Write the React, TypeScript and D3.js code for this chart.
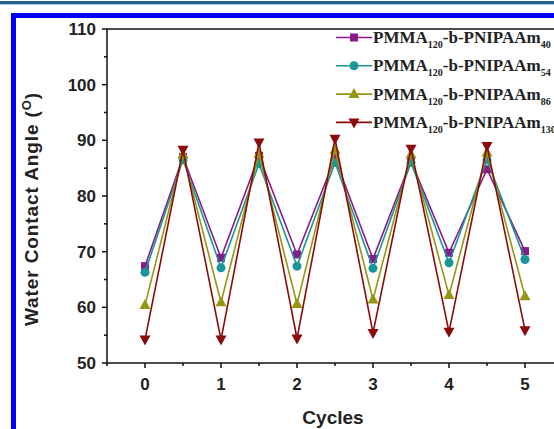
import React from "react";
import * as d3 from "d3";

const cycles = [0, 0.5, 1, 1.5, 2, 2.5, 3, 3.5, 4, 4.5, 5];
const seriesNames = ["40", "54", "86", "130"];
const purpleValues = [67.4, 87.0, 68.9, 87.2, 69.5, 86.8, 68.7, 86.3, 69.8, 84.8, 70.1];
const tealValues = [66.3, 86.5, 67.1, 85.8, 67.4, 86.0, 67.0, 86.0, 68.0, 86.5, 68.6];
const oliveValues = [60.4, 87.5, 60.9, 87.6, 60.6, 88.3, 61.4, 87.5, 62.2, 87.8, 62.0];
const redValues = [54.2, 88.3, 54.2, 89.6, 54.4, 90.3, 55.4, 88.5, 55.6, 89.0, 55.9];
const xTicks = [0, 1, 2, 3, 4, 5];
const yTicks = [50, 60, 70, 80, 90, 100, 110];

const colors = ["#8a1a8a", "#1a9696", "#969610", "#8b0a0a"];
const shapes = ["square", "circle", "triangle", "down"];
const allValues = [purpleValues, tealValues, oliveValues, redValues];

function Marker({ shape, x, y, color }: { shape: string; x: number; y: number; color: string }) {
  if (shape === "square") return <rect x={x - 4} y={y - 4} width={8} height={8} fill={color} />;
  if (shape === "circle") return <circle cx={x} cy={y} r={4.5} fill={color} />;
  if (shape === "triangle")
    return <path d={`M${x},${y - 6}L${x + 5.5},${y + 4}L${x - 5.5},${y + 4}Z`} fill={color} />;
  return <path d={`M${x},${y + 6}L${x + 5.5},${y - 4}L${x - 5.5},${y - 4}Z`} fill={color} />;
}

export default function App() {
  const W = 554, H = 429;
  const left = 107, top = 29, bottom = 363;
  const x = d3.scaleLinear().domain([-0.5, 5.5]).range([left, left + 456]);
  const y = d3.scaleLinear().domain([50, 110]).range([bottom, top]);
  const line = d3.line<number>().x((_, i) => x(cycles[i])).y((v) => y(v));
  const minorX = d3.range(-0.5, 5.6, 1);
  const minorY = d3.range(55, 110, 10);
  const legY = (i: number) => 37.5 + i * 28.3;
  const tf = "'Liberation Sans', Arial, sans-serif";
  const sf = "'Liberation Serif', 'Times New Roman', serif";

  return (
    <svg width={W} height={H} style={{ position: "absolute", left: 0, top: 0, background: "#fff" }}>
      <rect x={0} y={0} width={W} height={H} fill="#fff" />
      <rect x={0} y={1} width={W} height={3} fill="#235f91" />
      <rect x={0} y={4} width={W} height={1} fill="#a8c0d8" />
      <rect x={13.5} y={15.5} width={700} height={600} fill="none" stroke="#0000ff" strokeWidth={5} />

      {/* axes frame */}
      <line x1={left} x2={W} y1={top} y2={top} stroke="#111" strokeWidth={1.5} />
      <line x1={left} x2={left} y1={top} y2={bottom} stroke="#111" strokeWidth={1.5} />
      <line x1={left} x2={W} y1={bottom} y2={bottom} stroke="#111" strokeWidth={1.5} />

      {xTicks.map((t) => (
        <g key={"xt" + t}>
          <line x1={x(t)} x2={x(t)} y1={bottom} y2={bottom + 5} stroke="#111" strokeWidth={1.5} />
          <text x={x(t)} y={bottom + 27} textAnchor="middle" fontFamily={tf} fontWeight="bold" fontSize={17} fill="#222">
            {t}
          </text>
        </g>
      ))}
      {minorX.map((t) => (
        <line key={"xm" + t} x1={x(t)} x2={x(t)} y1={bottom} y2={bottom + 3} stroke="#111" strokeWidth={1.5} />
      ))}
      {yTicks.map((t) => (
        <g key={"yt" + t}>
          <line x1={left - 5} x2={left} y1={y(t)} y2={y(t)} stroke="#111" strokeWidth={1.5} />
          <text x={left - 11} y={y(t) + 6} textAnchor="end" fontFamily={tf} fontWeight="bold" fontSize={17} fill="#222">
            {t}
          </text>
        </g>
      ))}
      {minorY.map((t) => (
        <line key={"ym" + t} x1={left - 3} x2={left} y1={y(t)} y2={y(t)} stroke="#111" strokeWidth={1.5} />
      ))}

      <text x={333} y={424} textAnchor="middle" fontFamily={tf} fontWeight="bold" fontSize={19} fill="#222">
        Cycles
      </text>
      <text transform={`translate(38,209) rotate(-90)`} textAnchor="middle" fontFamily={tf} fontWeight="bold" fontSize={19} letterSpacing={0.9} fill="#222">
        Water Contact Angle (<tspan dy={-7} fontSize={13}>O</tspan><tspan dy={7}>)</tspan>
      </text>

      {allValues.map((vals, s) => (
        <g key={"s" + s}>
          <path d={line(vals) || ""} fill="none" stroke={colors[s]} strokeWidth={1.6} />
          {vals.map((v, i) => (
            <Marker key={i} shape={shapes[s]} x={x(cycles[i])} y={y(v)} color={colors[s]} />
          ))}
        </g>
      ))}

      {seriesNames.map((n, i) => (
        <g key={"l" + i}>
          <line x1={336} x2={372} y1={legY(i)} y2={legY(i)} stroke={colors[i]} strokeWidth={1.6} />
          <Marker shape={shapes[i]} x={354} y={legY(i)} color={colors[i]} />
          <text x={373} y={legY(i) + 5.5} fontFamily={sf} fontWeight="bold" fontSize={17} fill="#222">
            PMMA<tspan dy={5} fontSize={10}>120</tspan>
            <tspan dy={-5}>-b-PNIPAAm</tspan>
            <tspan dy={5} fontSize={10}>{n}</tspan>
          </text>
        </g>
      ))}
    </svg>
  );
}
